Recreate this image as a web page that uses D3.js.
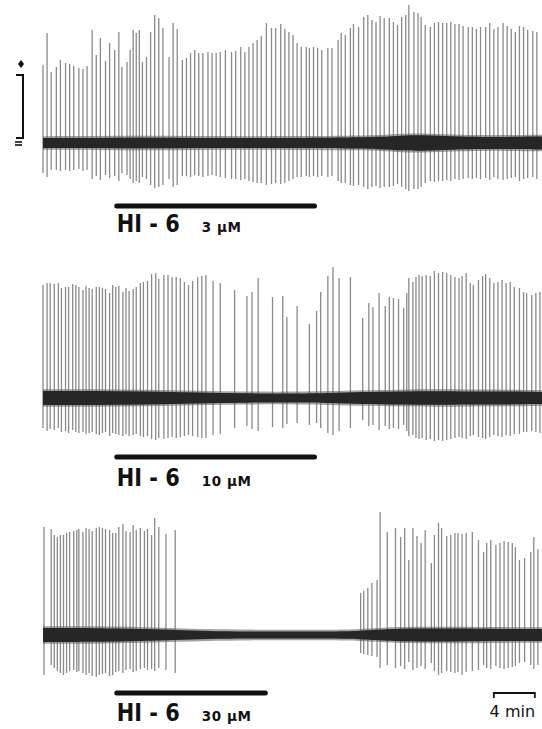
<!DOCTYPE html>
<html>
<head>
<meta charset="utf-8">
<script src="https://cdnjs.cloudflare.com/ajax/libs/d3/7.8.5/d3.min.js"></script>
<style>
  body { margin: 0; background: #fff; }
</style>
</head>
<body>
<script>
// spikes: [time (min), upward amplitude, downward amplitude]  (amplitude in trace units)
var spikes3 = [
  [0.0,78,30],[0.4,110,34],[0.8,71,27],[1.3,76,27],[1.7,83,28],[2.2,80,27],[2.6,79,28],[3.0,77,27],[3.5,75,26],[3.9,74,28],
  [4.3,77,27],[4.8,113,36],[5.2,88,33],[5.6,105,37],[6.1,82,32],[6.5,100,35],[7.0,93,33],[7.4,111,38],[7.7,76,30],[8.2,81,32],
  [8.5,93,36],[8.8,113,40],[9.1,110,38],[9.4,113,40],[9.7,81,34],[10.1,86,36],[10.5,111,42],[10.9,128,45],[11.3,125,44],[11.7,115,42],
  [12.3,86,36],[12.7,120,44],[13.1,114,42],[13.6,83,33],[14.0,85,33],[14.4,90,34],[14.8,93,32],[15.2,90,33],[15.6,90,34],[16.1,91,33],
  [16.5,90,32],[16.9,90,33],[17.3,91,34],[17.8,93,35],[18.4,91,36],[18.8,92,36],[19.3,96,37],[19.7,91,36],[20.1,96,38],[20.5,100,39],
  [20.9,103,40],[21.3,107,40],[21.8,120,42],[22.3,115,41],[22.7,115,40],[23.2,119,41],[23.6,114,40],[24.0,111,38],
  [24.4,108,36],[24.8,100,34],[25.2,96,34],[25.7,96,33],[26.0,95,34],[26.4,96,33],[26.8,95,34],[27.2,93,33],[27.8,95,34],[28.2,95,33],
  [28.8,103,38],[29.1,110,40],[29.5,108,40],[30.0,115,42],[30.3,119,43],[30.8,116,42],[31.3,126,44],[31.7,128,46],[32.1,123,44],[32.5,121,43],
  [32.9,127,45],[33.3,125,44],[33.8,125,44],[34.2,121,43],[34.6,118,41],[35.0,126,44],[35.4,128,46],[35.7,138,48],[36.2,131,46],[36.6,130,46],
  [36.9,126,44],[37.3,118,40],[37.8,116,38],[38.2,120,39],[38.6,121,38],[39.0,120,38],[39.4,120,37],[39.8,121,38],[40.2,119,36],[40.6,119,37],
  [41.0,117,36],[41.5,116,35],[41.9,116,36],[42.3,114,35],[42.7,116,36],[43.2,116,35],[43.6,120,37],[44.0,114,34],[44.4,116,36],[44.9,120,37],
  [45.3,117,36],[45.7,114,35],[46.1,111,34],[46.5,117,38],[46.9,116,36],[47.3,113,35],[47.8,112,34],[48.2,111,36]
];
var spikes10 = [
  [0.0,113,30],[0.4,115,33],[0.7,115,31],[1.1,114,32],[1.5,115,30],[1.8,110,34],[2.2,111,33],[2.5,111,35],[2.9,114,32],[3.2,113,34],
  [3.5,111,35],[3.9,108,34],[4.2,112,36],[4.5,110,35],[4.8,109,34],[5.2,111,36],[5.5,111,37],[5.8,110,35],[6.1,109,34],[6.5,105,38],
  [6.8,113,35],[7.1,111,36],[7.4,112,37],[7.8,106,38],[8.1,110,36],[8.4,107,38],[8.8,109,37],[9.1,111,36],[9.5,115,38],[9.8,116,39],
  [10.2,117,38],[10.6,124,41],[11.0,125,42],[11.3,119,40],[11.8,123,41],[12.2,123,40],[12.6,121,39],[13.0,121,40],[13.4,120,39],[13.8,116,38],
  [14.2,113,37],[14.6,117,38],[15.1,121,39],[15.5,122,40],[15.9,123,40],[16.6,117,37],[17.3,115,36],[18.7,108,30],[19.9,102,28],[20.4,106,31],
  [21.0,120,33],[22.4,101,29],[23.4,102,30],[23.8,81,26],
  [24.8,92,25],[26.0,74,27],[26.7,87,25],[27.1,106,30],[27.8,122,35],[28.3,131,37],[28.9,120,33],[30.0,121,30],
  [31.2,80,22],[31.8,95,28],[32.2,91,27],[32.8,105,32],[33.4,92,28],[33.8,101,31],[34.2,100,30],[34.7,99,31],
  [35.2,90,27],[35.5,105,33],[35.7,120,38],[36.1,116,37],[36.4,121,40],[36.7,123,41],[37.0,122,40],[37.4,123,42],[37.8,122,41],[38.2,127,43],
  [38.6,125,42],[39.0,126,43],[39.4,125,42],[39.8,123,41],[40.2,121,40],[40.6,120,39],[40.9,122,40],[41.3,125,41],[41.7,115,38],[42.0,113,37],
  [42.5,118,39],[42.9,122,40],[43.2,124,41],[43.6,120,39],[44.0,115,37],[44.4,116,38],[44.8,118,39],[45.2,115,37],[45.6,116,38],[46.0,111,36],
  [46.5,110,36],[46.9,106,34],[47.2,105,34],[47.7,103,33],[48.1,105,34],[48.5,106,35]
];
var spikes30 = [
  [0.1,108,40],[0.8,106,30],[1.1,100,33],[1.4,98,36],[1.7,100,38],[2.0,100,40],[2.3,102,38],[2.6,103,36],[3.0,104,35],[3.3,105,37],
  [3.5,106,36],[3.9,103,38],[4.2,107,40],[4.5,106,38],[4.8,104,41],[5.2,107,42],[5.5,108,40],[5.8,107,39],[6.1,106,38],[6.5,105,41],
  [6.8,102,40],[7.1,102,37],[7.4,108,36],[7.8,111,38],[8.1,104,35],[8.5,103,34],[8.8,110,37],[9.1,105,36],[9.5,107,34],[9.9,104,33],
  [10.2,106,35],[10.6,100,34],[10.9,117,36],[11.3,108,33],[12.0,101,35],[12.9,105,38],
  [31.0,42,18],[31.3,44,19],[31.7,47,20],[32.1,52,21],[32.6,55,22],[32.9,123,33],[33.6,103,30],[34.4,107,33],[34.9,98,31],[35.3,107,34],
  [35.7,75,27],[36.1,107,35],[36.5,99,33],[36.9,92,31],[37.3,105,34],[37.9,72,28],[38.2,100,36],[38.6,112,40],[38.9,107,38],[39.4,99,36],
  [39.8,100,37],[40.2,102,38],[40.5,102,37],[40.9,101,40],[41.3,102,37],[41.9,103,36],[42.5,95,35],[43.0,83,30],[43.3,92,33],[43.7,95,34],
  [44.2,90,31],[44.6,92,33],[45.0,94,34],[45.4,93,33],[45.8,92,32],[46.1,88,31],[46.5,75,28],[47.0,77,27],[47.6,83,30],[47.9,98,34],
  [48.3,86,30]
];

// half thickness of the noisy baseline band: [time (min), half width]
var band3 = [[0,5],[5,5],[10,5.5],[15,5],[20,5],[25,5],[30,5.5],[33,6],[35,7.5],[37,8],[40,6.5],[43,6],[45,6],[48.7,6.5]];
var band10 = [[0,7],[5,7],[10,6.5],[15,5.5],[20,4.5],[25,4.5],[28,5],[31,6],[35,6.5],[38,7],[42,6.5],[45,6.5],[48.7,6]];
var band30 = [[0,7],[5,7],[10,6],[13,5],[16,4],[20,3.5],[25,3.5],[30,3.5],[32,5],[35,6.5],[40,6.5],[45,6],[48.7,6]];

// drug application (min) and concentration
var drugOn = [7.2, 7.2, 7.2];
var drugOff = [26.5, 26.5, 21.7];
var concLabels = ["3 \u00b5M", "10 \u00b5M", "30 \u00b5M"];
var drugName = "HI - 6";
var timeBar = [44.0, 48.0];   // 4 min
var calBar = [5, 68];         // calibration, trace units

var width = 542, height = 729;

var svg = d3.select("body").append("svg")
    .attr("width", width)
    .attr("height", height)
    .style("display", "block");

svg.append("rect").attr("width", width).attr("height", height).attr("fill", "#fff");

var x = d3.scaleLinear().domain([0, 48.7]).range([43, 542]);

var panels = [
  {spikes: spikes3, band: band3, base: 143, barY: 206, textY: 232},
  {spikes: spikes10, band: band10, base: 398, barY: 457, textY: 486},
  {spikes: spikes30, band: band30, base: 635, barY: 693, textY: 721}
];

panels.forEach(function(p, i){
  var y = d3.scaleLinear().domain([-60, 140]).range([p.base + 60, p.base - 140]);
  var g = svg.append("g").attr("class", "panel");

  g.selectAll(".spike")
      .data(p.spikes)
      .enter()
      .append("line")
      .attr("class", "spike")
      .attr("x1", function(d){ return x(d[0]); })
      .attr("x2", function(d){ return x(d[0]); })
      .attr("y1", function(d){ return y(-d[2]); })
      .attr("y2", function(d){ return y(d[1]); })
      .attr("stroke", "#8a8a8a")
      .attr("stroke-width", 1.3);

  var area = d3.area()
      .x(function(d){ return x(d[0]); })
      .y0(function(d){ return y(-d[1]); })
      .y1(function(d){ return y(d[1]); })
      .curve(d3.curveBasis);
  var areaFuzz = d3.area()
      .x(function(d){ return x(d[0]); })
      .y0(function(d){ return y(-d[1] - 1.8); })
      .y1(function(d){ return y(d[1] + 1.8); })
      .curve(d3.curveBasis);

  g.append("path").datum(p.band).attr("d", areaFuzz).attr("fill", "#555").attr("fill-opacity", 0.55);
  g.append("path").datum(p.band).attr("d", area).attr("fill", "#262626");

  // drug bar + label
  g.append("line")
      .attr("x1", x(drugOn[i]))
      .attr("x2", x(drugOff[i]))
      .attr("y1", p.barY)
      .attr("y2", p.barY)
      .attr("stroke", "#111")
      .attr("stroke-width", 5)
      .attr("stroke-linecap", "round");
  g.append("text")
      .attr("x", x(drugOn[i]))
      .attr("y", p.textY)
      .attr("font-family", "DejaVu Sans")
      .attr("font-weight", "bold")
      .attr("font-size", 24)
      .attr("textLength", 63)
      .attr("lengthAdjust", "spacingAndGlyphs")
      .attr("fill", "#111")
      .text(drugName);
  g.append("text")
      .attr("x", x(drugOn[i]) + 85)
      .attr("y", p.textY)
      .attr("font-family", "DejaVu Sans")
      .attr("font-weight", "bold")
      .attr("font-size", 13.5)
      .attr("letter-spacing", 0.6)
      .attr("fill", "#111")
      .text(concLabels[i]);

  if (i == 0) {
    // calibration bracket
    var cx = 23;
    g.append("path")
        .attr("d", "M" + (cx - 7) + "," + y(calBar[1]) + "H" + cx + "V" + y(calBar[0]) + "H" + (cx - 7))
        .attr("fill", "none")
        .attr("stroke", "#111")
        .attr("stroke-width", 2);
    g.append("path")
        .attr("d", "M" + (cx - 2) + "," + (y(calBar[1]) - 15) + "l3,4l-3,4l-3,-4z")
        .attr("fill", "#111");
    g.append("line").attr("x1", cx - 8).attr("x2", cx - 1).attr("y1", y(calBar[0]) + 4).attr("y2", y(calBar[0]) + 4).attr("stroke", "#111").attr("stroke-width", 1.6);
    g.append("line").attr("x1", cx - 8).attr("x2", cx - 1).attr("y1", y(calBar[0]) + 7).attr("y2", y(calBar[0]) + 7).attr("stroke", "#111").attr("stroke-width", 1.6);
  }
  if (i == 2) {
    // time bar
    g.append("path")
        .attr("d", "M" + x(timeBar[0]) + "," + (p.barY + 5) + "V" + p.barY + "H" + x(timeBar[1]) + "V" + (p.barY + 5))
        .attr("fill", "none")
        .attr("stroke", "#111")
        .attr("stroke-width", 1.8);
    g.append("text")
        .attr("x", (x(timeBar[0]) + x(timeBar[1])) / 2 - 2)
        .attr("y", p.textY - 4)
        .attr("text-anchor", "middle")
        .attr("font-family", "DejaVu Sans")
        .attr("font-size", 16)
        .attr("fill", "#111")
        .text((timeBar[1] - timeBar[0]) + " min");
  }
});
</script>
</body>
</html>
